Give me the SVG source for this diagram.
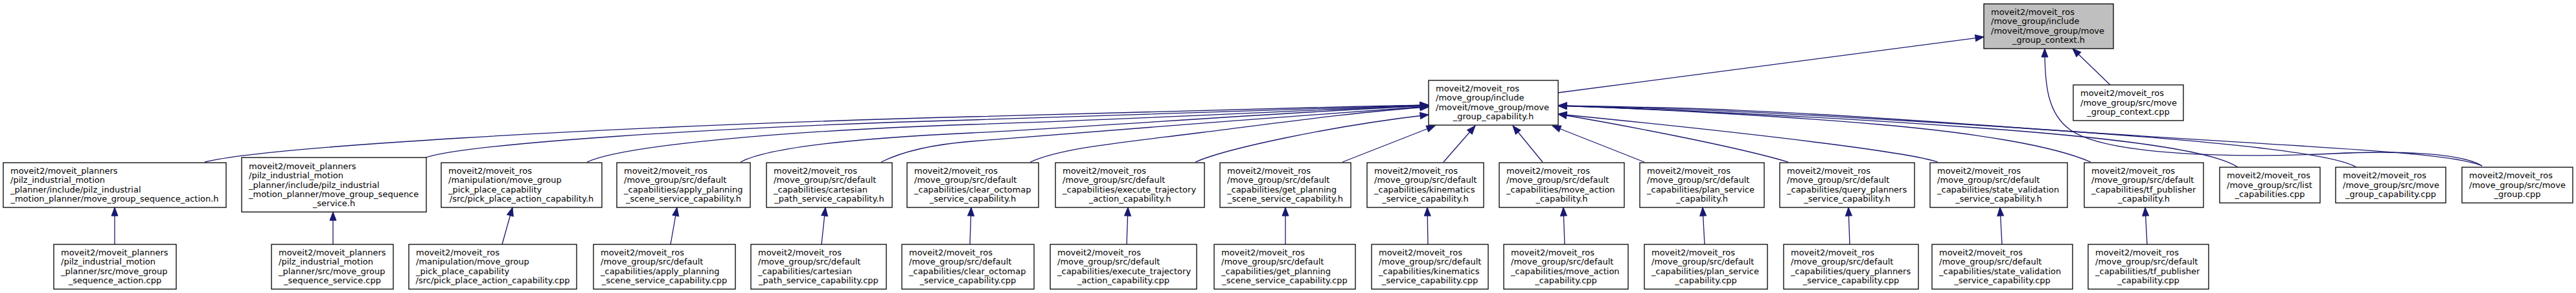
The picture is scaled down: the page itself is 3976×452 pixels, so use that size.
<svg xmlns="http://www.w3.org/2000/svg" width="3976" height="452" viewBox="0 0 3976 452">
<style>
.n rect{fill:#fff;stroke:#000;stroke-width:1.3}
#root rect{fill:#bfbfbf}
text{font-family:"DejaVu Sans","Liberation Sans",sans-serif;font-size:13px;fill:#000}
.c{text-anchor:middle}
#edges path{fill:none;stroke:#191970;stroke-width:1.3;marker-end:url(#ah)}
</style>
<defs>
<marker id="ah" markerUnits="userSpaceOnUse" markerWidth="16" markerHeight="12" refX="13" refY="5" orient="auto" overflow="visible">
<path d="M0,0 L13,5 L0,10 Z" fill="#191970" stroke="#191970" stroke-width="1"/>
</marker>
</defs>
<rect width="3976" height="452" fill="#fff"/>
<g id="edges">
<path d="M2405,143 L3062,57"/>
<path d="M3257,131 L3199,75"/>
<path d="M3831,256 C3800,236 3700,232 3600,237 C3450,244 3250,240 3195,200 C3160,175 3156,130 3156,75"/>
<path d="M316,250 C400,228 900,196 1500,180 S2000,166 2205,162"/>
<path d="M657,243 C720,222 1100,196 1500,185 S2000,168 2205,162"/>
<path d="M906,250 C960,225 1200,202 1500,192 S2000,170 2205,163"/>
<path d="M1143,250 C1190,225 1350,212 1500,205 S2000,172 2205,163"/>
<path d="M1360,250 C1400,230 1450,222 1500,218 S2000,178 2205,164"/>
<path d="M1590,250 C1640,228 1730,220 1850,205 S2100,172 2205,165"/>
<path d="M1845,250 C1890,230 2050,195 2205,177"/>
<path d="M2072,250 L2215,194"/>
<path d="M2228,250 L2277,194"/>
<path d="M2381,250 L2335,194"/>
<path d="M2538,250 L2396,194"/>
<path d="M2760,250 C2680,226 2500,192 2405,176"/>
<path d="M2991,250 C2950,236 2750,210 2405,176"/>
<path d="M3227,250 C3170,225 3050,205 2900,192 S2550,168 2405,163"/>
<path d="M3454,258 C3420,235 3300,215 3050,197 S2600,170 2405,163"/>
<path d="M3637,258 C3600,235 3400,215 3050,193 S2600,168 2405,163"/>
<path d="M3831,256 C3780,232 3500,225 3100,196 S2600,166 2405,163"/>
<path d="M177,377 L177,320"/>
<path d="M514,377 L514,327"/>
<path d="M775,377 L791,320"/>
<path d="M1035,377 L1045,320"/>
<path d="M1268,377 L1274,320"/>
<path d="M1497,377 L1499,320"/>
<path d="M1739,377 L1741,320"/>
<path d="M1984,377 L1984,320"/>
<path d="M2204,377 L2203,320"/>
<path d="M2415,377 L2413,320"/>
<path d="M2631,377 L2628,320"/>
<path d="M2855,377 L2853,320"/>
<path d="M3090,377 L3087,320"/>
<path d="M3314,377 L3311,320"/>
</g>

<g id="root" class="n"><rect x="3062" y="6" width="200" height="69"/>
<text x="3073" y="22.9">moveit2/moveit_ros</text><text x="3073" y="37.3">/move_group/include</text><text x="3073" y="51.7">/moveit/move_group/move</text><text class="c" x="3162" y="66.1">_group_context.h</text></g>

<g id="capability_h" class="n"><rect x="2205" y="124" width="200" height="69"/>
<text x="2216" y="140.9">moveit2/moveit_ros</text><text x="2216" y="155.3">/move_group/include</text><text x="2216" y="169.7">/moveit/move_group/move</text><text class="c" x="2305" y="184.1">_group_capability.h</text></g>

<g id="context_cpp" class="n"><rect x="3200" y="131" width="170" height="55"/>
<text x="3211" y="148.1">moveit2/moveit_ros</text><text x="3211" y="162.5">/move_group/src/move</text><text class="c" x="3285" y="176.9">_group_context.cpp</text></g>

<g id="seq_action_h" class="n"><rect x="5" y="251" width="344" height="69"/>
<text x="16" y="267.9">moveit2/moveit_planners</text><text x="16" y="282.3">/pilz_industrial_motion</text><text x="16" y="296.7">_planner/include/pilz_industrial</text><text class="c" x="177" y="311.1">_motion_planner/move_group_sequence_action.h</text></g>

<g id="seq_service_h" class="n"><rect x="373" y="243" width="285" height="84"/>
<text x="384" y="260.7">moveit2/moveit_planners</text><text x="384" y="275.1">/pilz_industrial_motion</text><text x="384" y="289.5">_planner/include/pilz_industrial</text><text x="384" y="303.9">_motion_planner/move_group_sequence</text><text class="c" x="515.5" y="318.3">_service.h</text></g>

<g id="pick_place_h" class="n"><rect x="681" y="251" width="248" height="69"/>
<text x="692" y="267.9">moveit2/moveit_ros</text><text x="692" y="282.3">/manipulation/move_group</text><text x="692" y="296.7">_pick_place_capability</text><text class="c" x="805" y="311.1">/src/pick_place_action_capability.h</text></g>

<g id="apply_planning_h" class="n"><rect x="952" y="251" width="206" height="69"/>
<text x="963" y="267.9">moveit2/moveit_ros</text><text x="963" y="282.3">/move_group/src/default</text><text x="963" y="296.7">_capabilities/apply_planning</text><text class="c" x="1055" y="311.1">_scene_service_capability.h</text></g>

<g id="cartesian_h" class="n"><rect x="1183" y="251" width="194" height="69"/>
<text x="1194" y="267.9">moveit2/moveit_ros</text><text x="1194" y="282.3">/move_group/src/default</text><text x="1194" y="296.7">_capabilities/cartesian</text><text class="c" x="1280" y="311.1">_path_service_capability.h</text></g>

<g id="clear_octomap_h" class="n"><rect x="1400" y="251" width="203" height="69"/>
<text x="1411" y="267.9">moveit2/moveit_ros</text><text x="1411" y="282.3">/move_group/src/default</text><text x="1411" y="296.7">_capabilities/clear_octomap</text><text class="c" x="1501.5" y="311.1">_service_capability.h</text></g>

<g id="execute_trajectory_h" class="n"><rect x="1629" y="251" width="230" height="69"/>
<text x="1640" y="267.9">moveit2/moveit_ros</text><text x="1640" y="282.3">/move_group/src/default</text><text x="1640" y="296.7">_capabilities/execute_trajectory</text><text class="c" x="1744" y="311.1">_action_capability.h</text></g>

<g id="get_planning_h" class="n"><rect x="1883" y="251" width="202" height="69"/>
<text x="1894" y="267.9">moveit2/moveit_ros</text><text x="1894" y="282.3">/move_group/src/default</text><text x="1894" y="296.7">_capabilities/get_planning</text><text class="c" x="1984" y="311.1">_scene_service_capability.h</text></g>

<g id="kinematics_h" class="n"><rect x="2110" y="251" width="180" height="69"/>
<text x="2121" y="267.9">moveit2/moveit_ros</text><text x="2121" y="282.3">/move_group/src/default</text><text x="2121" y="296.7">_capabilities/kinematics</text><text class="c" x="2200" y="311.1">_service_capability.h</text></g>

<g id="move_action_h" class="n"><rect x="2314" y="251" width="193" height="69"/>
<text x="2325" y="267.9">moveit2/moveit_ros</text><text x="2325" y="282.3">/move_group/src/default</text><text x="2325" y="296.7">_capabilities/move_action</text><text class="c" x="2410.5" y="311.1">_capability.h</text></g>

<g id="plan_service_h" class="n"><rect x="2531" y="251" width="192" height="69"/>
<text x="2542" y="267.9">moveit2/moveit_ros</text><text x="2542" y="282.3">/move_group/src/default</text><text x="2542" y="296.7">_capabilities/plan_service</text><text class="c" x="2627" y="311.1">_capability.h</text></g>

<g id="query_planners_h" class="n"><rect x="2747" y="251" width="208" height="69"/>
<text x="2758" y="267.9">moveit2/moveit_ros</text><text x="2758" y="282.3">/move_group/src/default</text><text x="2758" y="296.7">_capabilities/query_planners</text><text class="c" x="2851" y="311.1">_service_capability.h</text></g>

<g id="state_validation_h" class="n"><rect x="2979" y="251" width="212" height="69"/>
<text x="2990" y="267.9">moveit2/moveit_ros</text><text x="2990" y="282.3">/move_group/src/default</text><text x="2990" y="296.7">_capabilities/state_validation</text><text class="c" x="3085" y="311.1">_service_capability.h</text></g>

<g id="tf_publisher_h" class="n"><rect x="3217" y="251" width="184" height="69"/>
<text x="3228" y="267.9">moveit2/moveit_ros</text><text x="3228" y="282.3">/move_group/src/default</text><text x="3228" y="296.7">_capabilities/tf_publisher</text><text class="c" x="3309" y="311.1">_capability.h</text></g>

<g id="list_capabilities_cpp" class="n"><rect x="3426" y="258" width="155" height="55"/>
<text x="3437" y="275.1">moveit2/moveit_ros</text><text x="3437" y="289.5">/move_group/src/list</text><text class="c" x="3503.5" y="303.9">_capabilities.cpp</text></g>

<g id="move_group_capability_cpp" class="n"><rect x="3605" y="258" width="170" height="55"/>
<text x="3616" y="275.1">moveit2/moveit_ros</text><text x="3616" y="289.5">/move_group/src/move</text><text class="c" x="3690" y="303.9">_group_capability.cpp</text></g>

<g id="move_group_cpp" class="n"><rect x="3800" y="258" width="171" height="55"/>
<text x="3811" y="275.1">moveit2/moveit_ros</text><text x="3811" y="289.5">/move_group/src/move</text><text class="c" x="3885.5" y="303.9">_group.cpp</text></g>

<g id="seq_action_cpp" class="n"><rect x="83" y="377" width="189" height="69"/>
<text x="94" y="393.9">moveit2/moveit_planners</text><text x="94" y="408.3">/pilz_industrial_motion</text><text x="94" y="422.7">_planner/src/move_group</text><text class="c" x="177.5" y="437.1">_sequence_action.cpp</text></g>

<g id="seq_service_cpp" class="n"><rect x="419" y="377" width="188" height="69"/>
<text x="430" y="393.9">moveit2/moveit_planners</text><text x="430" y="408.3">/pilz_industrial_motion</text><text x="430" y="422.7">_planner/src/move_group</text><text class="c" x="513" y="437.1">_sequence_service.cpp</text></g>

<g id="pick_place_cpp" class="n"><rect x="631" y="377" width="259" height="69"/>
<text x="642" y="393.9">moveit2/moveit_ros</text><text x="642" y="408.3">/manipulation/move_group</text><text x="642" y="422.7">_pick_place_capability</text><text class="c" x="760.5" y="437.1">/src/pick_place_action_capability.cpp</text></g>

<g id="apply_planning_cpp" class="n"><rect x="916" y="377" width="219" height="69"/>
<text x="927" y="393.9">moveit2/moveit_ros</text><text x="927" y="408.3">/move_group/src/default</text><text x="927" y="422.7">_capabilities/apply_planning</text><text class="c" x="1025.5" y="437.1">_scene_service_capability.cpp</text></g>

<g id="cartesian_cpp" class="n"><rect x="1159" y="377" width="209" height="69"/>
<text x="1170" y="393.9">moveit2/moveit_ros</text><text x="1170" y="408.3">/move_group/src/default</text><text x="1170" y="422.7">_capabilities/cartesian</text><text class="c" x="1263.5" y="437.1">_path_service_capability.cpp</text></g>

<g id="clear_octomap_cpp" class="n"><rect x="1392" y="377" width="204" height="69"/>
<text x="1403" y="393.9">moveit2/moveit_ros</text><text x="1403" y="408.3">/move_group/src/default</text><text x="1403" y="422.7">_capabilities/clear_octomap</text><text class="c" x="1494" y="437.1">_service_capability.cpp</text></g>

<g id="execute_trajectory_cpp" class="n"><rect x="1621" y="377" width="226" height="69"/>
<text x="1632" y="393.9">moveit2/moveit_ros</text><text x="1632" y="408.3">/move_group/src/default</text><text x="1632" y="422.7">_capabilities/execute_trajectory</text><text class="c" x="1734" y="437.1">_action_capability.cpp</text></g>

<g id="get_planning_cpp" class="n"><rect x="1874" y="377" width="218" height="69"/>
<text x="1885" y="393.9">moveit2/moveit_ros</text><text x="1885" y="408.3">/move_group/src/default</text><text x="1885" y="422.7">_capabilities/get_planning</text><text class="c" x="1983" y="437.1">_scene_service_capability.cpp</text></g>

<g id="kinematics_cpp" class="n"><rect x="2117" y="377" width="180" height="69"/>
<text x="2128" y="393.9">moveit2/moveit_ros</text><text x="2128" y="408.3">/move_group/src/default</text><text x="2128" y="422.7">_capabilities/kinematics</text><text class="c" x="2207" y="437.1">_service_capability.cpp</text></g>

<g id="move_action_cpp" class="n"><rect x="2321" y="377" width="192" height="69"/>
<text x="2332" y="393.9">moveit2/moveit_ros</text><text x="2332" y="408.3">/move_group/src/default</text><text x="2332" y="422.7">_capabilities/move_action</text><text class="c" x="2417" y="437.1">_capability.cpp</text></g>

<g id="plan_service_cpp" class="n"><rect x="2538" y="377" width="190" height="69"/>
<text x="2549" y="393.9">moveit2/moveit_ros</text><text x="2549" y="408.3">/move_group/src/default</text><text x="2549" y="422.7">_capabilities/plan_service</text><text class="c" x="2633" y="437.1">_capability.cpp</text></g>

<g id="query_planners_cpp" class="n"><rect x="2753" y="377" width="208" height="69"/>
<text x="2764" y="393.9">moveit2/moveit_ros</text><text x="2764" y="408.3">/move_group/src/default</text><text x="2764" y="422.7">_capabilities/query_planners</text><text class="c" x="2857" y="437.1">_service_capability.cpp</text></g>

<g id="state_validation_cpp" class="n"><rect x="2982" y="377" width="217" height="69"/>
<text x="2993" y="393.9">moveit2/moveit_ros</text><text x="2993" y="408.3">/move_group/src/default</text><text x="2993" y="422.7">_capabilities/state_validation</text><text class="c" x="3090.5" y="437.1">_service_capability.cpp</text></g>

<g id="tf_publisher_cpp" class="n"><rect x="3223" y="377" width="186" height="69"/>
<text x="3234" y="393.9">moveit2/moveit_ros</text><text x="3234" y="408.3">/move_group/src/default</text><text x="3234" y="422.7">_capabilities/tf_publisher</text><text class="c" x="3316" y="437.1">_capability.cpp</text></g>
</svg>
